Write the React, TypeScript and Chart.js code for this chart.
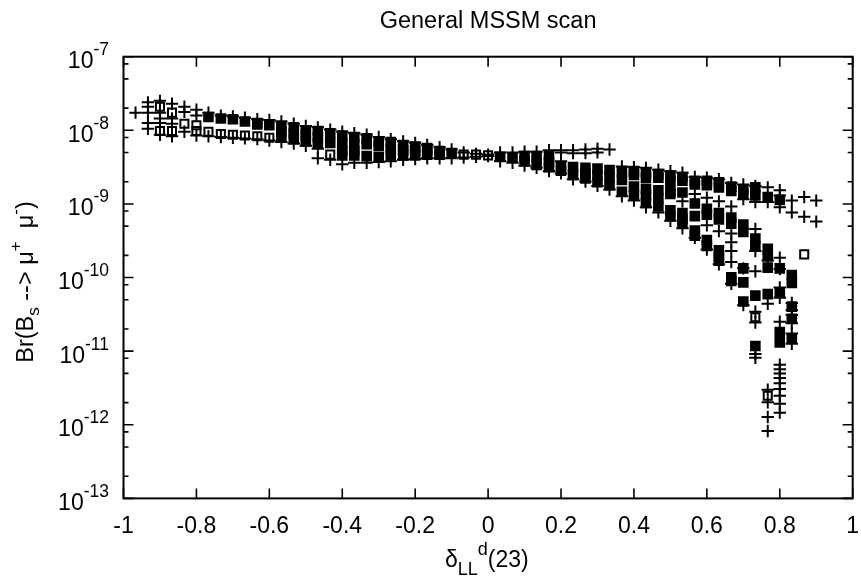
import React, { useEffect, useRef } from "react";
import { Chart, registerables } from "chart.js";

Chart.register(...registerables);

const titleText = "General MSSM scan";
const xTicks = [-1, -0.8, -0.6, -0.4, -0.2, 0, 0.2, 0.4, 0.6, 0.8, 1];
const yDecades = [-7, -8, -9, -10, -11, -12, -13];
const minorFactors = [2, 5, 8];

const columnX = [
  -0.967, -0.933, -0.9, -0.867, -0.833, -0.8, -0.767, -0.733, -0.7, -0.667,
  -0.633, -0.6, -0.567, -0.533, -0.5, -0.467, -0.433, -0.4, -0.367, -0.333,
  -0.3, -0.267, -0.233, -0.2, -0.167, -0.133, -0.1, -0.067, -0.033, 0,
  0.033, 0.067, 0.1, 0.133, 0.167, 0.2, 0.233, 0.267, 0.3, 0.333,
  0.367, 0.4, 0.433, 0.467, 0.5, 0.533, 0.567, 0.6, 0.633, 0.667,
  0.7, 0.733, 0.767, 0.8, 0.833, 0.867, 0.9,
];

// log10(Br) of the plus markers, one row per column
const plusLogs: number[][] = [
  [-7.76],
  [-7.62, -7.68, -7.76, -7.9, -7.98],
  [-7.6, -7.76, -7.84, -7.9, -8.06],
  [-7.64, -7.84, -7.91, -8.08],
  [-7.68, -7.75, -8.02],
  [-7.72, -7.8, -8.07],
  [-7.76, -8.08],
  [-7.8, -8.09],
  [-7.81, -8.1],
  [-7.83, -8.11],
  [-7.85, -8.12],
  [-7.86, -8.14],
  [-7.88, -8.16],
  [-7.91, -8.18],
  [-7.94, -8.21],
  [-7.96, -8.25, -8.38],
  [-7.99, -8.4],
  [-8.02, -8.46],
  [-8.04, -8.44],
  [-8.06, -8.44],
  [-8.09, -8.43],
  [-8.12, -8.42],
  [-8.15, -8.4],
  [-8.17, -8.39],
  [-8.2, -8.38],
  [-8.23, -8.38],
  [-8.26, -8.38],
  [-8.3, -8.37],
  [-8.32, -8.36],
  [-8.33, -8.35],
  [-8.3, -8.42],
  [-8.3, -8.44],
  [-8.29, -8.48],
  [-8.29, -8.51],
  [-8.27, -8.555],
  [-8.27, -8.3, -8.42, -8.585],
  [-8.27, -8.31, -8.665],
  [-8.26, -8.31, -8.695],
  [-8.25, -8.3, -8.755],
  [-8.26, -8.805],
  [-8.49, -8.895],
  [-8.5, -8.955],
  [-8.51, -9.045],
  [-8.535, -9.115],
  [-8.555, -9.23],
  [-8.575, -8.965, -9.33],
  [-8.635, -8.865, -9.46],
  [-8.645, -8.915, -9.29, -9.62],
  [-8.665, -8.965, -9.37, -9.82],
  [-8.715, -9.035, -9.4, -9.52, -9.64, -9.79, -10.085],
  [-8.735, -8.935, -9.875, -10.375],
  [-8.755, -8.975, -9.34, -9.64, -9.915, -10.465, -10.61, -11.04, -11.09],
  [-8.775, -8.975, -9.77, -10.355, -11.525, -11.695, -11.895, -12.085],
  [-8.815, -8.885, -9.045, -9.73, -9.885, -10.135, -10.275, -10.6, -11.185, -11.245, -11.305, -11.365, -11.435, -11.515, -11.605, -11.715, -11.835],
  [-8.955, -9.115, -10.345, -10.445, -10.51, -10.62, -10.76, -10.9],
  [-8.905, -9.175],
  [-8.955, -9.24],
];

// log10(Br) of the squares that merge into solid blocks
const solidLogs: number[][] = [
  [], [], [], [], [], [],
  [-7.82],
  [-7.84],
  [-7.85],
  [-7.88],
  [-7.9, -7.92],
  [-7.93],
  [-7.94, -8.02, -8.1],
  [-7.96, -8.04, -8.12],
  [-8, -8.07, -8.15],
  [-8.01, -8.09, -8.17],
  [-8.04, -8.17],
  [-8.07, -8.18, -8.28, -8.34],
  [-8.09, -8.19, -8.28, -8.34],
  [-8.11, -8.19, -8.35],
  [-8.15, -8.21, -8.36],
  [-8.16, -8.25, -8.34],
  [-8.2, -8.27, -8.34],
  [-8.22, -8.28, -8.34],
  [-8.24, -8.28, -8.33],
  [-8.28, -8.33],
  [-8.31],
  [], [], [],
  [-8.36],
  [-8.37],
  [-8.35, -8.42],
  [-8.35, -8.47],
  [-8.34, -8.43, -8.5],
  [-8.49, -8.55],
  [-8.5, -8.605],
  [-8.51, -8.59, -8.655],
  [-8.52, -8.605, -8.705],
  [-8.54, -8.635, -8.745],
  [-8.565, -8.675, -8.835],
  [-8.555, -8.605, -8.765, -8.885],
  [-8.575, -8.645, -8.795, -8.885, -8.985],
  [-8.595, -8.645, -8.815, -8.925, -9.035],
  [-8.615, -8.685, -8.825, -8.865, -9.085, -9.165],
  [-8.635, -8.685, -8.845, -9.125, -9.205, -9.27],
  [-8.685, -8.735, -8.995, -9.165, -9.36, -9.43],
  [-8.685, -8.745, -9.065, -9.145, -9.49, -9.57],
  [-8.705, -8.775, -9.125, -9.21, -9.63, -9.71, -9.77],
  [-8.765, -8.825, -9.185, -9.27, -9.995, -10.045],
  [-8.805, -8.865, -9.28, -9.38, -9.875, -10.065, -10.325],
  [-8.775, -8.885, -9.47, -9.58, -10.245, -10.93],
  [-8.905, -9.61, -9.71, -9.865, -10.225],
  [-8.945, -9.875, -10.205, -10.74, -10.88],
  [-9.965, -10.075, -10.395, -10.56, -10.83],
  [],
  [],
];

// log10(Br) of the open squares: a column index and a value per square
const openColumns = [2, 2, 3, 3, 4, 5, 5, 6, 7, 8, 9, 10, 11, 16, 27, 28, 29, 51, 52, 55];
const openLogs = [-7.68, -8.01, -7.76, -8.01, -7.91, -7.93, -8.01, -8.02, -8.05, -8.06, -8.07, -8.08, -8.1, -8.33, -8.33, -8.33, -8.34, -10.54, -11.605, -9.685];

const plusData = plusLogs.flatMap((row, i) => row.map((v) => ({ x: columnX[i], y: 10 ** v })));
const solidData = solidLogs.flatMap((row, i) => row.map((v) => ({ x: columnX[i], y: 10 ** v })));
const openData = openLogs.map((v, i) => ({ x: columnX[openColumns[i]], y: 10 ** v }));

const FONT = '"Liberation Sans", Arial, sans-serif';

type Run = { t: string; size: number; dy: number };

function runWidth(ctx: CanvasRenderingContext2D, runs: Run[]) {
  let w = 0;
  for (const r of runs) {
    ctx.font = `${r.size}px ${FONT}`;
    w += ctx.measureText(r.t).width;
  }
  return w;
}

function drawRuns(ctx: CanvasRenderingContext2D, runs: Run[], x: number, y: number) {
  let cx = x;
  ctx.textAlign = "left";
  ctx.textBaseline = "alphabetic";
  for (const r of runs) {
    ctx.font = `${r.size}px ${FONT}`;
    ctx.fillText(r.t, cx, y + r.dy);
    cx += ctx.measureText(r.t).width;
  }
}

const framePlugin = {
  id: "gnuplotFrame",
  afterDraw(chart: any) {
    const { ctx, chartArea: a, scales } = chart;
    const xs = scales.x;
    const ys = scales.y;
    ctx.save();
    ctx.strokeStyle = "#000";
    ctx.fillStyle = "#000";
    ctx.lineWidth = 2;
    ctx.strokeRect(a.left, a.top, a.right - a.left, a.bottom - a.top);
    ctx.lineWidth = 1.6;
    ctx.beginPath();
    for (const v of xTicks) {
      const px = xs.getPixelForValue(v);
      ctx.moveTo(px, a.bottom);
      ctx.lineTo(px, a.bottom - 10);
      ctx.moveTo(px, a.top);
      ctx.lineTo(px, a.top + 10);
    }
    for (const d of yDecades) {
      const py = ys.getPixelForValue(10 ** d);
      ctx.moveTo(a.left, py);
      ctx.lineTo(a.left + 10, py);
      ctx.moveTo(a.right, py);
      ctx.lineTo(a.right - 10, py);
    }
    for (const d of yDecades.slice(1)) {
      for (const f of minorFactors) {
        const py = ys.getPixelForValue(f * 10 ** d);
        ctx.moveTo(a.left, py);
        ctx.lineTo(a.left + 5, py);
        ctx.moveTo(a.right, py);
        ctx.lineTo(a.right - 5, py);
      }
    }
    ctx.stroke();

    // y tick labels with true superscripts
    for (const d of yDecades) {
      const py = ys.getPixelForValue(10 ** d);
      const runs: Run[] = [
        { t: "10", size: 23, dy: 0 },
        { t: String(d), size: 17.5, dy: -13 },
      ];
      drawRuns(ctx, runs, 109 - runWidth(ctx, runs), py + 11.5);
    }

    // x axis title
    const xRuns: Run[] = [
      { t: "\u03b4", size: 23, dy: 0 },
      { t: "LL", size: 18, dy: 8 },
      { t: "d", size: 18, dy: -12 },
      { t: "(23)", size: 23, dy: 0 },
    ];
    drawRuns(ctx, xRuns, 445, 567);

    // y axis title
    ctx.save();
    ctx.translate(33, 282);
    ctx.rotate(-Math.PI / 2);
    const yRuns: Run[] = [
      { t: "Br(B", size: 23.5, dy: 0 },
      { t: "s", size: 17, dy: 6 },
      { t: " --> \u03bc", size: 23.5, dy: 0 },
      { t: "+", size: 17, dy: -12 },
      { t: "  \u03bc", size: 23.5, dy: 0 },
      { t: "-", size: 17, dy: -12 },
      { t: ")", size: 23.5, dy: 0 },
    ];
    drawRuns(ctx, yRuns, -runWidth(ctx, yRuns) / 2, 0);
    ctx.restore();
    ctx.restore();
  },
};

export default function App() {
  const ref = useRef<HTMLCanvasElement | null>(null);
  useEffect(() => {
    document.body.style.margin = "0";
    const chart = new Chart(ref.current as HTMLCanvasElement, {
      type: "scatter",
      data: {
        datasets: [
          {
            label: "plus",
            data: plusData,
            pointStyle: "cross",
            pointRadius: 6.2,
            pointBorderWidth: 2,
            borderColor: "#000",
            backgroundColor: "#000",
          },
          {
            label: "solid",
            data: solidData,
            pointStyle: "rect",
            pointRadius: 7.5,
            pointBorderWidth: 0,
            borderColor: "#000",
            backgroundColor: "#000",
          },
          {
            label: "open",
            data: openData,
            pointStyle: "rect",
            pointRadius: 5.7,
            pointBorderWidth: 2,
            borderColor: "#000",
            backgroundColor: "rgba(0,0,0,0)",
          },
        ],
      },
      options: {
        animation: false,
        responsive: false,
        devicePixelRatio: 1,
        layout: { padding: { left: 123.5, right: 8.3, top: 0, bottom: 22 } },
        plugins: {
          legend: { display: false },
          tooltip: { enabled: false },
          title: {
            display: true,
            text: titleText,
            color: "#000",
            font: { family: FONT, size: 23.5, weight: "normal" },
            padding: { top: 7, bottom: 21.5 },
          },
        },
        scales: {
          x: {
            type: "linear",
            min: -1,
            max: 1,
            afterBuildTicks: (s: any) => {
              s.ticks = xTicks.map((value) => ({ value }));
            },
            afterFit: (s: any) => {
              s.paddingLeft = 0;
              s.paddingRight = 0;
            },
            grid: { display: false, drawTicks: false },
            border: { display: false },
            ticks: {
              color: "#000",
              padding: 14,
              maxRotation: 0,
              font: { family: FONT, size: 23 },
              callback: (v: any) => String(v),
            },
          },
          y: {
            type: "logarithmic",
            min: 1e-13,
            max: 1e-7,
            display: true,
            afterFit: (s: any) => {
              s.paddingTop = 0;
              s.paddingBottom = 0;
            },
            grid: { display: false, drawTicks: false },
            border: { display: false },
            ticks: { display: false },
          },
        },
      },
      plugins: [framePlugin],
    } as any);
    return () => chart.destroy();
  }, []);
  return (
    <canvas
      ref={ref}
      width={861}
      height={576}
      style={{ display: "block", width: 861, height: 576, background: "#fff" }}
    />
  );
}
